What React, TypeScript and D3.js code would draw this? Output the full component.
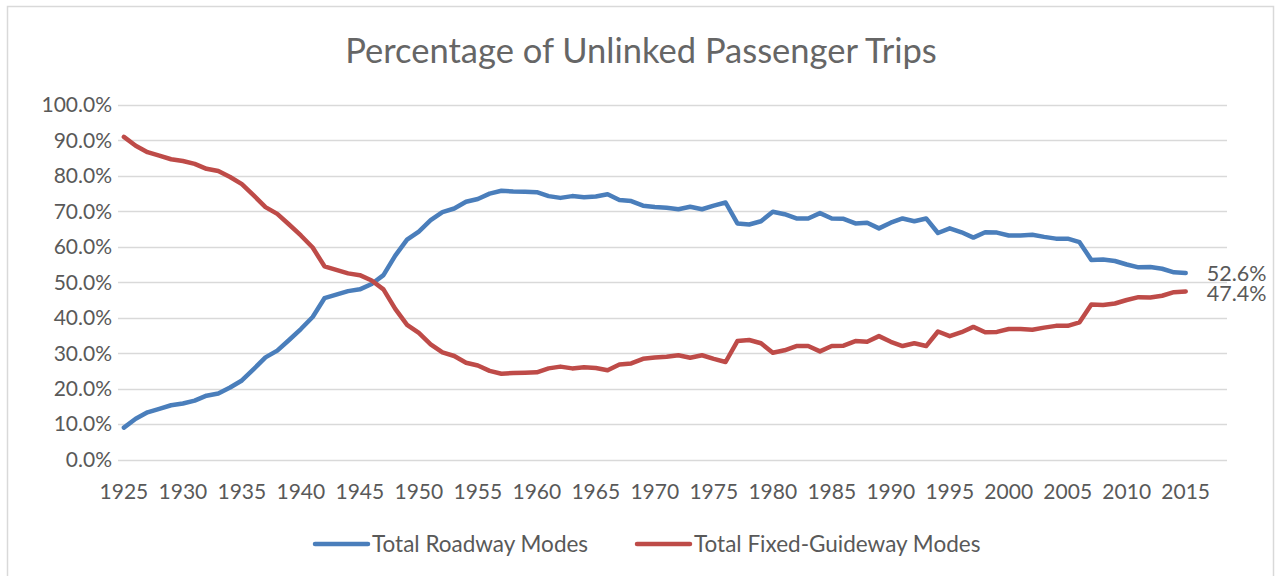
import React, { useRef, useEffect } from "react";
import * as d3 from "d3";

// years on the category axis (Excel left room for 3 empty slots after 2015)
const axisYears = d3.range(1925, 2019);
const years = d3.range(1925, 2016);
const yTicks = [0, 0.1, 0.2, 0.3, 0.4, 0.5, 0.6, 0.7, 0.8, 0.9, 1.0];

const roadway = [
  9.0, 11.5, 13.3, 14.3, 15.3, 15.8, 16.6, 18.0, 18.6, 20.3,
  22.3, 25.5, 28.8, 30.7, 33.7, 36.8, 40.2, 45.5, 46.5, 47.5,
  48.0, 49.5, 52.0, 57.5, 62.0, 64.3, 67.5, 69.8, 70.8, 72.7,
  73.5, 75.0, 75.8, 75.6, 75.5, 75.4, 74.3, 73.8, 74.3, 74.0,
  74.2, 74.8, 73.2, 72.9, 71.6, 71.2, 71.0, 70.6, 71.3, 70.6,
  71.6, 72.5, 66.6, 66.3, 67.2, 69.9, 69.2, 68.0, 68.0, 69.5,
  68.0, 67.9, 66.6, 66.8, 65.2, 66.8, 68.0, 67.2, 68.0, 63.9,
  65.2, 64.1, 62.6, 64.1, 64.0, 63.2, 63.2, 63.4, 62.8, 62.3,
  62.3, 61.3, 56.3, 56.4, 56.0, 55.0, 54.2, 54.3, 53.8, 52.8,
  52.6,
];

const fixedGuideway = [
  91.0, 88.5, 86.7, 85.7, 84.7, 84.2, 83.4, 82.0, 81.4, 79.7,
  77.7, 74.5, 71.2, 69.3, 66.3, 63.2, 59.8, 54.5, 53.5, 52.5,
  52.0, 50.5, 48.0, 42.5, 38.0, 35.7, 32.5, 30.2, 29.2, 27.3,
  26.5, 25.0, 24.2, 24.4, 24.5, 24.6, 25.7, 26.2, 25.7, 26.0,
  25.8, 25.2, 26.8, 27.1, 28.4, 28.8, 29.0, 29.4, 28.7, 29.4,
  28.4, 27.5, 33.4, 33.7, 32.8, 30.1, 30.8, 32.0, 32.0, 30.5,
  32.0, 32.1, 33.4, 33.2, 34.8, 33.2, 32.0, 32.8, 32.0, 36.1,
  34.8, 35.9, 37.4, 35.9, 36.0, 36.8, 36.8, 36.6, 37.2, 37.7,
  37.7, 38.7, 43.7, 43.6, 44.0, 45.0, 45.8, 45.7, 46.2, 47.2,
  47.4,
];

const seriesNames = ["Total Roadway Modes", "Total Fixed-Guideway Modes"];
const colors = ["#4A7EBB", "#BE4B48"];

const App = () => {
  const svgRef = useRef<SVGSVGElement>(null);

  useEffect(() => {
    const svg = d3.select(svgRef.current);
    svg.selectAll("*").remove();

    const width = 1276;
    const height = 576;
    const font = "Lato, 'Open Sans', sans-serif";
    const textColor = "#595959";

    const x = d3
      .scaleBand<number>()
      .domain(axisYears)
      .range([118, 1227]);

    const y = d3.scaleLinear().domain([0, 1]).range([459.5, 105]);

    const cx = (yr: number) => (x(yr) as number) + x.bandwidth() / 2;

    // chart area border
    svg
      .append("rect")
      .attr("x", 7.5)
      .attr("y", 6.5)
      .attr("width", width - 10)
      .attr("height", height + 10)
      .attr("fill", "white")
      .attr("stroke", "#D9D9D9")
      .attr("stroke-width", 1.5);

    // title
    svg
      .append("text")
      .attr("x", 641)
      .attr("y", 63)
      .attr("text-anchor", "middle")
      .attr("font-family", font)
      .attr("font-size", 34.5)
      .attr("fill", "#666666")
      .text("Percentage of Unlinked Passenger Trips");

    // gridlines
    svg
      .append("g")
      .selectAll("line")
      .data(yTicks)
      .join("line")
      .attr("x1", 118)
      .attr("x2", 1227)
      .attr("y1", (d) => Math.round(y(d)) + 0.5)
      .attr("y2", (d) => Math.round(y(d)) + 0.5)
      .attr("stroke", "#D9D9D9")
      .attr("stroke-width", 1.5);

    // y tick labels
    svg
      .append("g")
      .selectAll("text")
      .data(yTicks)
      .join("text")
      .attr("x", 112)
      .attr("y", (d) => y(d))
      .attr("dy", "0.35em")
      .attr("text-anchor", "end")
      .attr("font-family", font)
      .attr("font-size", 21)
      .attr("fill", textColor)
      .text((d) => d3.format(".1%")(d));

    // x tick labels
    svg
      .append("g")
      .selectAll("text")
      .data(axisYears.filter((yr) => yr % 5 === 0))
      .join("text")
      .attr("x", (d) => cx(d))
      .attr("y", 499)
      .attr("text-anchor", "middle")
      .attr("font-family", font)
      .attr("font-size", 21)
      .attr("fill", textColor)
      .text((d) => d);

    const line = d3
      .line<number>()
      .x((_, i) => cx(years[i]))
      .y((d) => y(d / 100));

    const labelOffset = [0, 2];
    [roadway, fixedGuideway].forEach((values, i) => {
      svg
        .append("path")
        .datum(values)
        .attr("d", line)
        .attr("fill", "none")
        .attr("stroke", colors[i])
        .attr("stroke-width", 4.5)
        .attr("stroke-linejoin", "round")
        .attr("stroke-linecap", "round");

      // end label
      const last = values[values.length - 1];
      svg
        .append("text")
        .attr("x", cx(years[years.length - 1]) + 21)
        .attr("y", y(last / 100) + labelOffset[i])
        .attr("dy", "0.35em")
        .attr("font-family", font)
        .attr("font-size", 21.5)
        .attr("fill", textColor)
        .text(d3.format(".1f")(last) + "%");
    });

    // legend
    const legendX = [313, 635];
    seriesNames.forEach((name, i) => {
      const g = svg
        .append("g")
        .attr("transform", `translate(${legendX[i]}, 544)`);
      g.append("line")
        .attr("x1", 2)
        .attr("x2", 55)
        .attr("stroke", colors[i])
        .attr("stroke-width", 4.5)
        .attr("stroke-linecap", "round");
      g.append("text")
        .attr("x", 59)
        .attr("dy", "0.35em")
        .attr("font-family", font)
        .attr("font-size", 22.5)
        .attr("fill", textColor)
        .text(name);
    });
  }, []);

  return (
    <svg
      ref={svgRef}
      width={1276}
      height={576}
      style={{ position: "absolute", left: 0, top: 0, background: "white" }}
    />
  );
};

export default App;
